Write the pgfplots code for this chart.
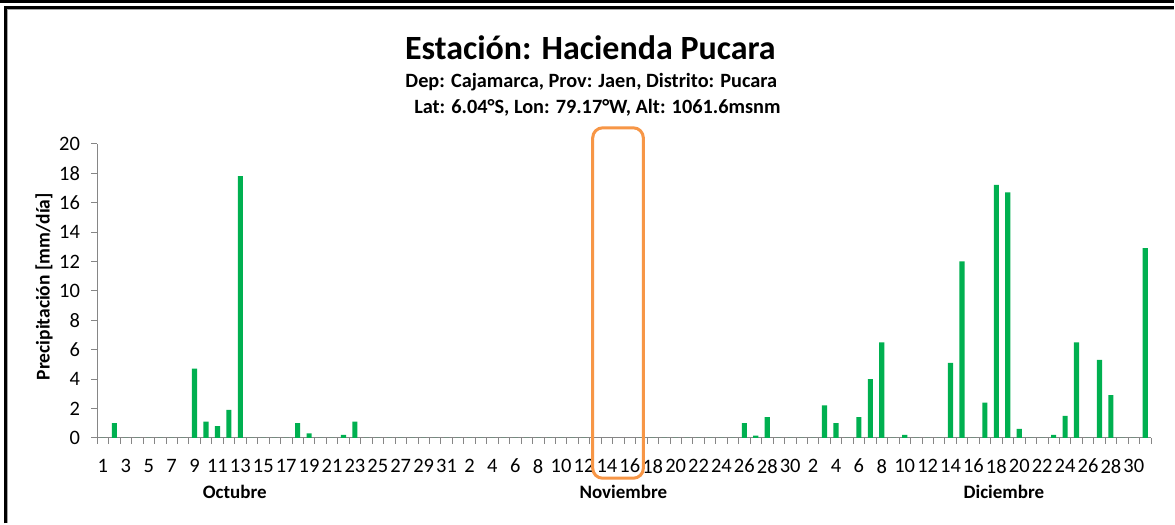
\documentclass[border=0pt]{standalone}
\usepackage{pgfplots}
\pgfplotsset{compat=1.18}
\usepackage{pgfplotstable}
\usepackage{fontspec}
\setmainfont{Carlito}
\definecolor{barg}{HTML}{00B050}
\definecolor{orng}{HTML}{F79646}
\definecolor{axg}{HTML}{868686}
\pgfplotstableread{
idx val
1 0
2 1.0
3 0
4 0
5 0
6 0
7 0
8 0
9 4.7
10 1.1
11 0.8
12 1.9
13 17.8
14 0
15 0
16 0
17 0
18 1.0
19 0.3
20 0
21 0
22 0.2
23 1.1
24 0
25 0
26 0
27 0
28 0
29 0
30 0
31 0
32 0
33 0
34 0
35 0
36 0
37 0
38 0
39 0
40 0
41 0
42 0
43 0
48 0
49 0
50 0
51 0
52 0
53 0
54 0
55 0
56 0
57 1.0
58 0.15
59 1.4
60 0
61 0
62 0
63 0
64 2.2
65 1.0
66 0
67 1.4
68 4.0
69 6.5
70 0
71 0.2
72 0
73 0
74 0
75 5.1
76 12.0
77 0
78 2.4
79 17.2
80 16.7
81 0.6
82 0
83 0
84 0.2
85 1.5
86 6.5
87 0
88 5.3
89 2.9
90 0
91 0
92 12.9
}\datatable
\begin{document}
\begin{tikzpicture}[x=1pt,y=1pt]
\path[fill=white] (0,0) rectangle (1175,524);
% frame
\fill[black] (0,521.3) rectangle (1175,524);
\draw[black,line width=2.6pt] (5.6,0) -- (5.6,516.2) -- (1175,516.2);
\draw[gray!70,line width=1.2pt] (7.9,0) -- (7.9,514.2) -- (1175,514.2);
% titles
\node[anchor=base,font=\bfseries\fontsize{34}{34}\selectfont] at (591,464) {Estación: Hacienda Pucara};
\node[anchor=base,font=\bfseries\fontsize{20.3}{20.3}\selectfont] at (592,436) {Dep: Cajamarca, Prov: Jaen, Distrito: Pucara};
\node[anchor=base,font=\bfseries\fontsize{20.3}{20.3}\selectfont] at (598,410) {Lat: 6.04°S, Lon: 79.17°W, Alt: 1061.6msnm};
% y label
\node[rotate=90,font=\bfseries\fontsize{19.5}{19.5}\selectfont] at (44,237) {Precipitación [mm/día]};
% month labels
\node[anchor=base,font=\bfseries\fontsize{19}{19}\selectfont] at (235,25) {Octubre};
\node[anchor=base,font=\bfseries\fontsize{19}{19}\selectfont] at (624,25) {Noviembre};
\node[anchor=base,font=\bfseries\fontsize{19}{19}\selectfont] at (1005,25) {Diciembre};
\begin{axis}[
  at={(97.3pt,85.7pt)}, anchor=south west,
  scale only axis, width=1055pt, height=294.3pt,
  xmin=0.5, xmax=92.5, ymin=0, ymax=20,
  ytick={0,2,...,20},
  xtick={1,3,...,91},
  xticklabels={1,3,5,7,9,11,13,15,17,19,21,23,25,27,29,31,2,4,6,8,10,12,14,16,18,20,22,24,26,28,30,2,4,6,8,10,12,14,16,18,20,22,24,26,28,30},
  minor xtick={0.5,1.5,...,92.5},
  axis x line=bottom, axis y line=left,
  axis line style={axg,line width=0.8pt,-},
  tick align=outside,
  major x tick style={draw=none},
  minor x tick style={axg,line width=0.8pt},
  y tick style={axg,line width=0.8pt},
  major tick length=5.7pt, minor tick length=5.7pt,
  ticklabel style={font=\fontsize{20.5}{20.5}\selectfont,text=black},
  xticklabel style={yshift=-12pt},
  yticklabel style={xshift=-8pt},
  /pgf/number format/assume math mode=true,
  ybar, bar width=0.45,
  clip=false,
]
\addplot[fill=barg,draw=none] table[x=idx,y=val] {\datatable};
\draw[orng,line width=3pt,rounded corners=10pt] (axis cs:43.76,-2.75) rectangle (axis cs:48.18,21.09);
\end{axis}
\end{tikzpicture}
\end{document}
